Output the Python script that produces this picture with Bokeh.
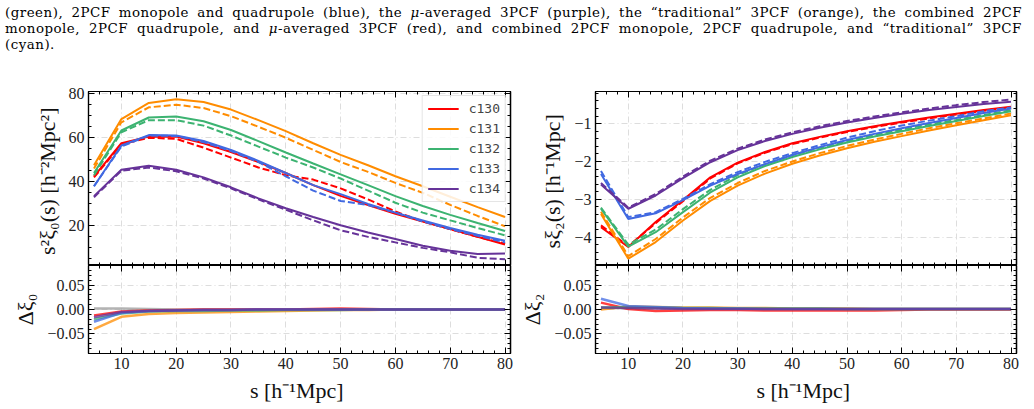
import numpy as np
from bokeh.plotting import figure
from bokeh.models import (LinearAxis, FixedTicker, Grid, Range1d, Div, Legend,
                          LegendItem, CustomJSTickFormatter)
from bokeh.layouts import column, row
from bokeh.embed import file_html
from bokeh.resources import INLINE

# ---------------- data ----------------
s = [5, 10, 15, 20, 25, 30, 35, 40, 45, 50, 55, 60, 65, 70, 75, 80]
cosmo = ["c130", "c131", "c132", "c133", "c134"]
colors = ["#ff0000", "#ff8c00", "#3cb371", "#4169e1", "#663399"]

# s^2 xi_0 : solid (model) and dashed (reference)
xi0_solid = {
    "c130": [42.5, 57.5, 60.5, 60.5, 57.5, 53.5, 49.0, 44.0, 38.5, 33.6, 29.5, 25.5, 22.0, 18.5, 15.0, 11.5],
    "c131": [47.5, 68.5, 75.8, 77.5, 76.2, 72.8, 68.0, 63.0, 57.5, 52.2, 47.5, 42.5, 38.0, 33.2, 28.5, 24.0],
    "c132": [44.0, 63.3, 69.2, 69.6, 67.5, 63.5, 58.5, 53.3, 48.3, 43.4, 38.5, 33.5, 29.0, 25.0, 21.3, 17.7],
    "c133": [38.0, 56.5, 61.2, 61.0, 58.5, 54.5, 49.5, 44.0, 38.5, 34.4, 30.0, 26.0, 22.5, 19.0, 16.0, 13.2],
    "c134": [33.5, 45.5, 47.3, 45.5, 42.0, 37.5, 32.5, 28.0, 24.0, 20.3, 17.0, 14.0, 11.0, 8.7, 7.2, 7.5],
}
xi0_dashed = {
    "c130": [42.0, 57.0, 60.0, 59.5, 55.5, 51.0, 46.5, 43.0, 41.0, 37.0, 32.0, 26.5, 22.0, 18.5, 15.0, 12.0],
    "c131": [46.0, 67.0, 73.8, 75.0, 73.5, 69.8, 65.0, 60.0, 54.5, 49.0, 44.5, 39.5, 35.0, 29.5, 24.5, 19.8],
    "c132": [43.0, 62.5, 68.0, 68.0, 65.5, 61.0, 56.0, 51.0, 46.5, 41.5, 36.0, 30.5, 26.0, 22.5, 19.0, 15.7],
    "c133": [38.0, 56.0, 61.0, 60.8, 58.0, 54.0, 49.0, 42.5, 36.0, 31.3, 29.5, 26.0, 22.0, 18.5, 15.5, 12.5],
    "c134": [33.0, 45.0, 46.5, 44.8, 41.5, 37.0, 32.0, 27.3, 22.5, 18.0, 15.0, 12.5, 10.0, 8.0, 5.5, 4.8],
}
# s xi_2
xi2_solid = {
    "c130": [-3.74, -4.26, -3.60, -3.02, -2.42, -2.03, -1.75, -1.52, -1.35, -1.20, -1.07, -0.95, -0.84, -0.74, -0.64, -0.55],
    "c131": [-3.39, -4.57, -4.13, -3.56, -3.04, -2.64, -2.32, -2.06, -1.84, -1.65, -1.48, -1.33, -1.18, -1.04, -0.91, -0.78],
    "c132": [-3.25, -4.25, -3.87, -3.34, -2.82, -2.42, -2.12, -1.88, -1.68, -1.50, -1.34, -1.20, -1.06, -0.93, -0.80, -0.67],
    "c133": [-2.33, -3.52, -3.37, -3.02, -2.64, -2.33, -2.07, -1.83, -1.62, -1.43, -1.27, -1.12, -0.98, -0.85, -0.72, -0.60],
    "c134": [-2.61, -3.25, -2.90, -2.44, -2.02, -1.70, -1.46, -1.27, -1.11, -0.97, -0.85, -0.74, -0.64, -0.56, -0.48, -0.42],
}
xi2_dashed = {
    "c130": [-3.69, -4.24, -3.63, -3.05, -2.45, -2.05, -1.77, -1.54, -1.37, -1.22, -1.09, -0.97, -0.86, -0.76, -0.66, -0.57],
    "c131": [-3.33, -4.50, -4.05, -3.48, -2.96, -2.57, -2.25, -2.00, -1.78, -1.59, -1.42, -1.27, -1.12, -0.99, -0.86, -0.73],
    "c132": [-3.22, -4.20, -3.80, -3.26, -2.75, -2.36, -2.07, -1.83, -1.64, -1.46, -1.30, -1.16, -1.02, -0.90, -0.77, -0.64],
    "c133": [-2.25, -3.47, -3.34, -2.99, -2.60, -2.28, -2.01, -1.78, -1.57, -1.37, -1.20, -1.05, -0.92, -0.80, -0.67, -0.57],
    "c134": [-2.57, -3.22, -2.86, -2.40, -1.98, -1.66, -1.42, -1.23, -1.07, -0.93, -0.81, -0.70, -0.60, -0.51, -0.43, -0.36],
}
# residuals
res_names = ["grey", "c130", "c131", "c132", "c133", "c134"]
res_colors = ["#999999", "#ff0000", "#ff8c00", "#3cb371", "#4169e1", "#663399"]
dxi0 = {
    "grey": [0.002, 0.002, 0.001, 0.0, 0.0, 0.0, 0.0, 0.0, 0.0, 0.0, 0.0, 0.0, 0.0, 0.0, 0.0, 0.0],
    "c130": [-0.012, -0.004, -0.002, -0.001, 0.0, 0.0, 0.0, 0.0, 0.001, 0.002, 0.001, 0.0, 0.0, 0.0, 0.0, 0.0],
    "c131": [-0.040, -0.015, -0.009, -0.007, -0.006, -0.005, -0.004, -0.003, -0.002, -0.001, -0.001, 0.0, 0.0, 0.0, 0.0, 0.0],
    "c132": [-0.020, -0.008, -0.004, -0.003, -0.003, -0.002, -0.002, -0.001, -0.001, -0.001, 0.0, 0.0, 0.0, 0.0, 0.0, 0.0],
    "c133": [-0.025, -0.007, -0.003, -0.002, -0.001, -0.001, 0.0, 0.0, 0.0, 0.0, 0.0, 0.0, 0.0, 0.0, 0.0, 0.0],
    "c134": [-0.016, -0.005, -0.003, -0.002, -0.001, -0.001, 0.0, 0.0, 0.0, 0.0, 0.0, 0.0, 0.0, 0.0, 0.0, 0.0],
}
dxi2 = {
    "grey": [0.003, 0.003, 0.003, 0.002, 0.002, 0.002, 0.001, 0.001, 0.001, 0.001, 0.001, 0.001, 0.001, 0.001, 0.001, 0.001],
    "c130": [0.014, 0.001, -0.003, -0.002, -0.001, -0.001, -0.002, -0.002, -0.002, -0.002, -0.002, -0.001, 0.0, 0.0, 0.0, 0.0],
    "c131": [0.000, 0.006, 0.005, 0.004, 0.004, 0.003, 0.003, 0.002, 0.002, 0.002, 0.001, 0.001, 0.001, 0.001, 0.001, 0.001],
    "c132": [0.004, 0.005, 0.004, 0.003, 0.003, 0.002, 0.002, 0.002, 0.002, 0.001, 0.001, 0.001, 0.001, 0.001, 0.001, 0.001],
    "c133": [0.022, 0.007, 0.005, 0.003, 0.002, 0.002, 0.001, 0.001, 0.001, 0.001, 0.001, 0.001, 0.001, 0.001, 0.001, 0.001],
    "c134": [0.004, 0.003, 0.002, 0.001, 0.001, 0.001, 0.001, 0.001, 0.001, 0.001, 0.001, 0.001, 0.001, 0.001, 0.001, 0.001],
}

x_ticks = [10, 20, 30, 40, 50, 60, 70, 80]
y0_ticks = [20, 40, 60, 80]
y2_ticks = [-4, -3, -2, -1]
res_ticks = [-0.05, 0.0, 0.05]

caption_lines = [
    "(green), 2PCF monopole and quadrupole (blue), the <i>\u03bc</i>-averaged 3PCF (purple), the \u201ctraditional\u201d 3PCF (orange), the combined 2PCF",
    "monopole, 2PCF quadrupole, and <i>\u03bc</i>-averaged 3PCF (red), and combined 2PCF monopole, 2PCF quadrupole, and \u201ctraditional\u201d 3PCF",
    "(cyan).",
]

# ---------------- style helpers ----------------
SERIF = "Liberation Serif"
X_RANGE = (4, 81)

x_minor = list(range(4, 82, 2))
y0_minor = list(range(5, 81, 5))
y2_minor = [round(v, 1) for v in np.arange(-4.6, -0.1, 0.2)]
res_minor = [round(v, 2) for v in np.arange(-0.08, 0.085, 0.01)]

minus_fmt0 = CustomJSTickFormatter(code="return (tick < 0 ? '\u2212' : '') + Math.abs(tick).toFixed(0);")
minus_fmt2 = CustomJSTickFormatter(code="return (tick < 0 ? '\u2212' : '') + Math.abs(tick).toFixed(2);")


def mk_fig(w, h, yr, bl, br, bt, bb):
    p = figure(width=w, height=h, x_range=Range1d(*X_RANGE), y_range=Range1d(*yr),
               x_axis_type=None, y_axis_type=None, output_backend="svg",
               toolbar_location=None, min_border_left=bl, min_border_right=br,
               min_border_top=bt, min_border_bottom=bb, margin=(0, 0, 0, 0))
    p.outline_line_color = "black"
    p.outline_line_width = 1.2
    p.background_fill_color = "white"
    p.border_fill_color = "white"
    return p


def style_ticks(ax):
    ax.major_tick_in = 6
    ax.major_tick_out = 0
    ax.minor_tick_in = 3
    ax.minor_tick_out = 0
    ax.major_tick_line_color = "black"
    ax.minor_tick_line_color = "black"
    ax.axis_line_color = "black"
    ax.axis_line_width = 1.2


def add_label_axis(p, side, majors, minors, label, formatter=None):
    ax = LinearAxis(ticker=FixedTicker(ticks=majors, minor_ticks=minors))
    style_ticks(ax)
    if formatter is not None:
        ax.formatter = formatter
    ax.major_label_text_font = SERIF
    ax.major_label_text_font_size = "16px"
    ax.major_label_text_color = "#222222"
    ax.major_label_standoff = 4
    ax.axis_label = label
    ax.axis_label_text_font = SERIF
    ax.axis_label_text_font_size = "22px"
    ax.axis_label_text_font_style = "normal"
    ax.axis_label_text_color = "#111111"
    ax.axis_label_standoff = 6
    p.add_layout(ax, side)


def add_tick_axes(p, side, majors, minors):
    # label-free axes: ticks drawn as "minor" ticks so that no tick labels exist
    for ticks, ln in ((minors, 3), (majors, 6)):
        ax = LinearAxis(ticker=FixedTicker(ticks=[], minor_ticks=ticks))
        style_ticks(ax)
        ax.minor_tick_in = ln
        ax.major_label_standoff = 0
        p.add_layout(ax, side)


def add_grid(p, xt, yt):
    for dim, t in ((0, xt), (1, yt)):
        g = Grid(dimension=dim, ticker=FixedTicker(ticks=t))
        g.grid_line_color = "#dddddd"
        g.grid_line_dash = "6 3 1 3"
        g.grid_line_width = 1
        p.add_layout(g)


def build_column(bl, br, top_s, top_d, res_data, yr_top, y_major, y_minor,
                 top_fmt, top_label, res_label, with_legend):
    top = mk_fig(517, 210, yr_top, bl, br, 36, 0)
    res = mk_fig(517, 143, (-0.09, 0.09), bl, br, 0, 55)

    # top panel
    add_grid(top, x_ticks, y_major)
    add_label_axis(top, "left", y_major, y_minor, top_label, top_fmt)
    add_tick_axes(top, "right", y_major, y_minor)
    add_tick_axes(top, "below", x_ticks, x_minor)
    add_tick_axes(top, "above", x_ticks, x_minor)
    items = []
    for name, col in zip(cosmo, colors):
        r = top.line(s, top_s[name], line_color=col, line_width=2)
        top.line(s, top_d[name], line_color=col, line_width=2, line_dash="7 3")
        items.append(LegendItem(label=name, renderers=[r]))
    if with_legend:
        leg = Legend(items=items, location="top_right")
        leg.label_text_font = "DejaVu Sans Mono"
        leg.label_text_font_size = "13px"
        leg.glyph_width = 31
        leg.glyph_height = 15
        leg.label_standoff = 10
        leg.label_height = 15
        leg.spacing = 5
        leg.padding = 5
        leg.margin = 4
        leg.border_line_color = "#cccccc"
        leg.background_fill_alpha = 0.85
        top.add_layout(leg)

    # residual panel
    add_grid(res, x_ticks, res_ticks)
    add_label_axis(res, "left", res_ticks, res_minor, res_label, minus_fmt2)
    add_tick_axes(res, "right", res_ticks, res_minor)
    add_label_axis(res, "below", x_ticks, x_minor, "s  [h\u207b\u00b9Mpc]")
    add_tick_axes(res, "above", x_ticks, x_minor)
    for name, col in zip(res_names, res_colors):
        res.line(s, res_data[name], line_color=col, line_width=2.5, line_alpha=0.75)
    return column(top, res, spacing=0)


left = build_column(
    88, 7, xi0_solid, xi0_dashed, dxi0, (2, 81), y0_ticks, y0_minor,
    None, "s\u00b2\u03be\u2080(s)  [h\u207b\u00b2Mpc\u00b2]", "\u0394\u03be\u2080", True)

right = build_column(
    77, 18, xi2_solid, xi2_dashed, dxi2, (-4.75, -0.15), y2_ticks, y2_minor,
    minus_fmt0, "s\u03be\u2082(s)  [h\u207b\u00b9Mpc]", "\u0394\u03be\u2082", False)

line_divs = []
for i, ln in enumerate(caption_lines):
    words = "".join("<span>%s</span>" % w for w in ln.split(" "))
    if i < len(caption_lines) - 1:
        line_divs.append('<div style="display:flex;justify-content:space-between;white-space:nowrap;height:16px;">%s</div>' % words)
    else:
        line_divs.append('<div style="white-space:nowrap;height:16px;">%s</div>' % ln)
cap_html = ('<div style="font-family:\'DejaVu Serif\',serif;font-size:13.4px;line-height:16px;letter-spacing:0.5px;'
            'color:#000;width:1022px;padding:5px 0 0 5px;margin:0;">' + "".join(line_divs) + '</div>')
cap = Div(text=cap_html, width=1034, height=55, margin=(0, 0, 0, 0))

layout = column(cap, row(left, right, spacing=0), spacing=0)

open("out.html", "w").write(file_html(layout, INLINE))
